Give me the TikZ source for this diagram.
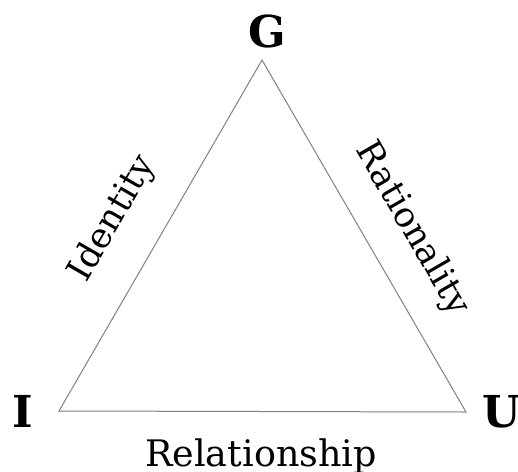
\documentclass[tikz,border=0pt]{standalone}
\usepackage{fontspec}
\setmainfont{DejaVu Serif}
\begin{document}
\begin{tikzpicture}[x=1pt,y=-1pt,
  vlabel/.style={font=\fontsize{44}{44}\selectfont\bfseries, inner sep=0pt, anchor=base},
  elabel/.style={font=\fontsize{35}{35}\selectfont, inner sep=0pt},
  edgeline/.style={draw=black!50, line width=1pt}]
\useasboundingbox (0,0) rectangle (518,471);
\coordinate (g) at (262,60);
\coordinate (i) at (59,411);
\coordinate (u) at (466,412);
\draw[edgeline] (g) -- (u) -- (i) -- cycle;
\node[vlabel] (G) at (267,47) {G};
\node[vlabel] (I) at (23,427) {I};
\node[vlabel] (U) at (502,427) {U};
\node[elabel, anchor=base, font=\fontsize{36.5}{36.5}\selectfont] (rel) at (261,466) {Relationship};
\node[elabel, rotate=60] (idn) at (113,219) {Identity};
\node[elabel, rotate=-60] (rat) at (412,229) {Rationality};
\end{tikzpicture}
\end{document}
